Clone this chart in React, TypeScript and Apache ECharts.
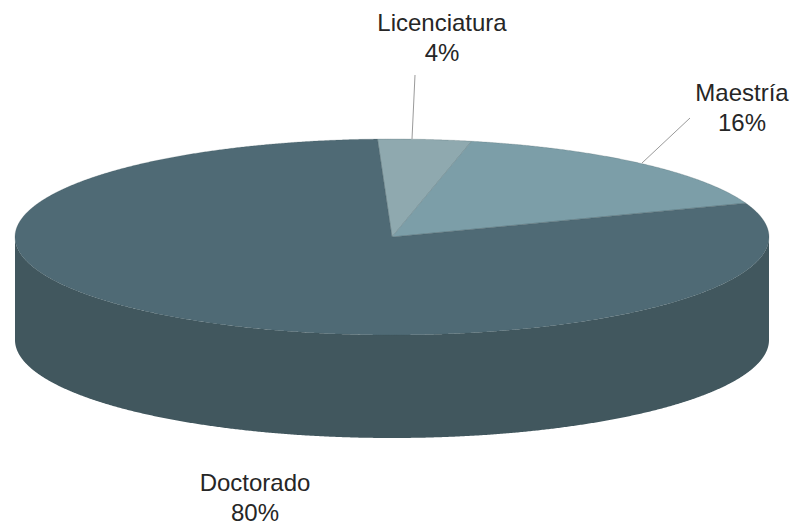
import React, { useEffect, useRef } from "react";
import * as echarts from "echarts";

const categories = ["Licenciatura", "Maestría", "Doctorado"];
const values = [4, 16, 80];
const topColors = ["#8fa9af", "#7c9ea8", "#4f6a75"];
const wallColor = "#41575e";
const labelPositions = [
  [442, 37],
  [742, 107],
  [255, 497],
];
const leaderLines = [
  [[415, 75], [412, 139]],
  [[690, 118], [642, 163]],
];

const CX = 392;
const CY = 237;
const RX = 377;
const RY = 98;
const DEPTH = 103;
const START_DEG = -2.2;

const total = values.reduce((a, b) => a + b, 0);
const pt = (deg: number, dy = 0): [number, number] => {
  const r = (deg * Math.PI) / 180;
  return [CX + RX * Math.sin(r), CY + dy - RY * Math.cos(r)];
};
const arc = (from: number, to: number, dy = 0) => {
  const n = Math.max(2, Math.ceil(Math.abs(to - from) * 4));
  const out: [number, number][] = [];
  for (let k = 0; k <= n; k++) out.push(pt(from + ((to - from) * k) / n, dy));
  return out;
};

function sliceItem(params: any, api: any) {
  const i = params.dataIndex;
  const before = values.slice(0, i).reduce((a, b) => a + b, 0);
  const a0 = START_DEG + (before / total) * 360;
  const a1 = a0 + (api.value(0) / total) * 360;
  return {
    type: "polygon",
    shape: { points: [[CX, CY], ...arc(a0, a1)] },
    style: { fill: topColors[i], stroke: "rgba(60,80,88,0.35)", lineWidth: 0.6, lineJoin: "round" },
  };
}

function wallItem() {
  // front half of the rim: top edge from right to left, bottom edge from left to right
  const pts = [...arc(90, 270), ...arc(270, 90, DEPTH)];
  return {
    type: "polygon",
    shape: { points: pts },
    style: { fill: wallColor },
  };
}

function labelItem(params: any, api: any) {
  const i = params.dataIndex;
  const [x, y] = labelPositions[i];
  return {
    type: "text",
    x,
    y,
    style: {
      text: `${categories[i]}\n${api.value(0)}%`,
      fill: "#262626",
      font: '24px "Liberation Sans", Arial, sans-serif',
      lineHeight: 30,
      align: "center",
      verticalAlign: "middle",
    },
  };
}

export default function App() {
  const ref = useRef<HTMLDivElement>(null);
  useEffect(() => {
    const chart = echarts.init(ref.current!, null, { renderer: "svg" });
    chart.setOption({
      animation: false,
      backgroundColor: "#ffffff",
      series: [
        { type: "custom", coordinateSystem: "none", silent: true, data: [[1]], renderItem: wallItem, z: 1 },
        { type: "custom", coordinateSystem: "none", silent: true, data: values.map((v) => [v]), renderItem: sliceItem, z: 2 },
        { type: "custom", coordinateSystem: "none", silent: true, data: values.map((v) => [v]), renderItem: labelItem, z: 4 },
      ],
      graphic: leaderLines.map(([a, b]) => ({
        type: "line",
        z: 3,
        shape: { x1: a[0], y1: a[1], x2: b[0], y2: b[1] },
        style: { stroke: "#9a9a9a", lineWidth: 1 },
      })),
    });
    return () => chart.dispose();
  }, []);
  return <div ref={ref} style={{ position: "fixed", left: 0, top: 0, width: 797, height: 525 }} />;
}
